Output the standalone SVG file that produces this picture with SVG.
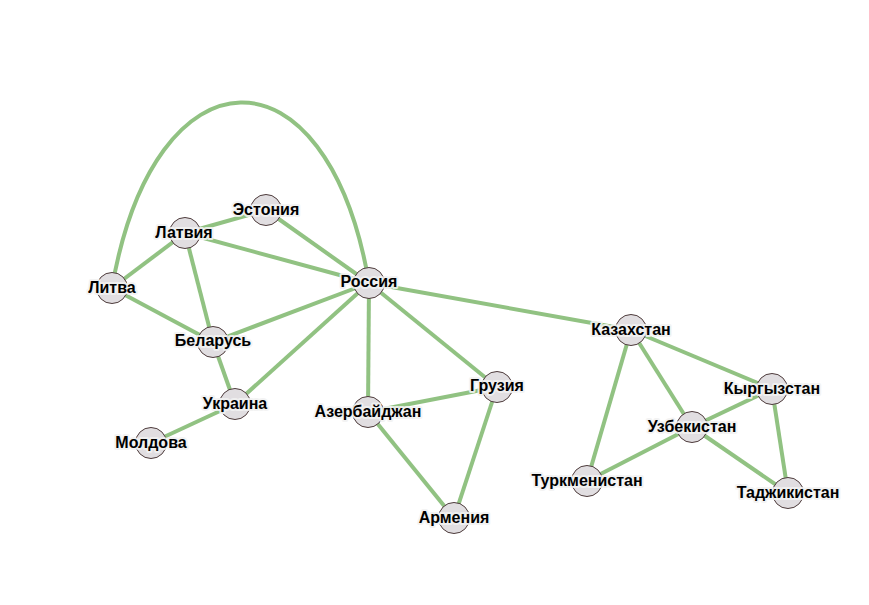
<svg xmlns="http://www.w3.org/2000/svg" width="869" height="605" viewBox="0 0 869 605">
<style>
.link{fill:none;stroke:#91c282;stroke-width:4}
.node circle{fill:#e1dee1;stroke:#4d3b3b;stroke-width:1}
.node text{font-family:"Liberation Sans",Arial,sans-serif;font-size:16px;font-weight:bold;fill:#000;text-anchor:middle;stroke:#f2f2f2;stroke-width:4;stroke-opacity:0.9;stroke-linejoin:round;paint-order:stroke}
</style>
<rect width="869" height="605" fill="#fff"/>
<g id="links">
<path class="link" d="M112,288 C154,44 327,39 369,283"/>
<line class="link" x1="112" y1="288" x2="185" y2="233"/>
<line class="link" x1="112" y1="288" x2="213" y2="342"/>
<line class="link" x1="185" y1="233" x2="266" y2="210"/>
<line class="link" x1="185" y1="233" x2="369" y2="283"/>
<line class="link" x1="185" y1="233" x2="213" y2="342"/>
<line class="link" x1="266" y1="210" x2="369" y2="283"/>
<line class="link" x1="213" y1="342" x2="369" y2="283"/>
<line class="link" x1="213" y1="342" x2="235" y2="404"/>
<line class="link" x1="235" y1="404" x2="369" y2="283"/>
<line class="link" x1="235" y1="404" x2="151" y2="443"/>
<line class="link" x1="369" y1="283" x2="368" y2="412"/>
<line class="link" x1="369" y1="283" x2="497" y2="387"/>
<line class="link" x1="369" y1="283" x2="631" y2="330"/>
<line class="link" x1="368" y1="412" x2="497" y2="387"/>
<line class="link" x1="368" y1="412" x2="454" y2="518"/>
<line class="link" x1="497" y1="387" x2="454" y2="518"/>
<line class="link" x1="631" y1="330" x2="587" y2="481"/>
<line class="link" x1="631" y1="330" x2="692" y2="427"/>
<line class="link" x1="631" y1="330" x2="772" y2="389"/>
<line class="link" x1="772" y1="389" x2="692" y2="427"/>
<line class="link" x1="772" y1="389" x2="788" y2="493"/>
<line class="link" x1="692" y1="427" x2="587" y2="481"/>
<line class="link" x1="692" y1="427" x2="788" y2="493"/>
</g>
<g id="n-estonia" class="node"><circle cx="266" cy="210" r="15.5"/><text x="266" y="215">Эстония</text></g>
<g id="n-latvia" class="node"><circle cx="185" cy="233" r="15.5"/><text x="184" y="238">Латвия</text></g>
<g id="n-litva" class="node"><circle cx="112" cy="288" r="15.5"/><text x="112" y="293">Литва</text></g>
<g id="n-russia" class="node"><circle cx="369" cy="283" r="15.5"/><text x="369" y="287">Россия</text></g>
<g id="n-belarus" class="node"><circle cx="213" cy="342" r="15.5"/><text x="213" y="346">Беларусь</text></g>
<g id="n-ukraine" class="node"><circle cx="235" cy="404" r="15.5"/><text x="235" y="409">Украина</text></g>
<g id="n-moldova" class="node"><circle cx="151" cy="443" r="15.5"/><text x="151" y="448">Молдова</text></g>
<g id="n-azerbaijan" class="node"><circle cx="368" cy="412" r="15.5"/><text x="368" y="417">Азербайджан</text></g>
<g id="n-georgia" class="node"><circle cx="497" cy="387" r="15.5"/><text x="497" y="391">Грузия</text></g>
<g id="n-armenia" class="node"><circle cx="454" cy="518" r="15.5"/><text x="454" y="523">Армения</text></g>
<g id="n-kazakhstan" class="node"><circle cx="631" cy="330" r="15.5"/><text x="631" y="335">Казахстан</text></g>
<g id="n-kyrgyzstan" class="node"><circle cx="772" cy="389" r="15.5"/><text x="772" y="394">Кыргызстан</text></g>
<g id="n-uzbekistan" class="node"><circle cx="692" cy="427" r="15.5"/><text x="692" y="432">Узбекистан</text></g>
<g id="n-turkmenistan" class="node"><circle cx="587" cy="481" r="15.5"/><text x="587" y="486">Туркменистан</text></g>
<g id="n-tajikistan" class="node"><circle cx="788" cy="493" r="15.5"/><text x="788" y="498">Таджикистан</text></g>
</svg>
